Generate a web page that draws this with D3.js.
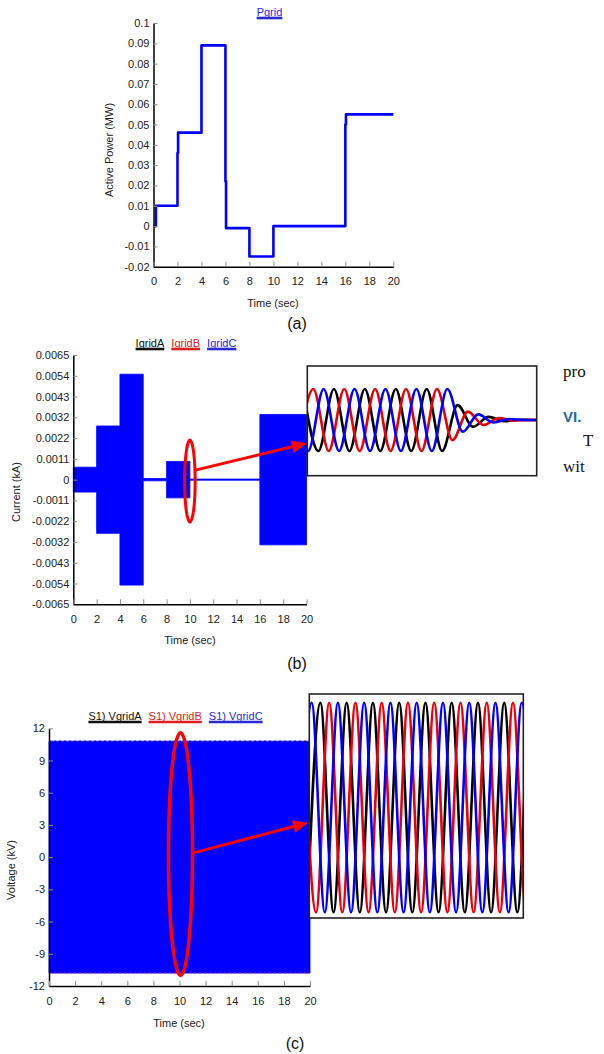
<!DOCTYPE html>
<html>
<head>
<meta charset="utf-8">
<script src="https://cdn.jsdelivr.net/npm/d3@7/dist/d3.min.js"></script>
<style>
  body { margin: 0; background: #fff; }
  svg text { font-family: "Liberation Sans", Arial, sans-serif; }
  svg text.serif { font-family: "Liberation Serif", "Times New Roman", serif; }
  .tick line { stroke: #8c8c8c; }
  .tick text { fill: #222; font-size: 11px; }
  .domain { stroke: #000; stroke-width: 1.5; }
</style>
</head>
<body>
<svg id="fig"></svg>
<script>
// ---- data ----
const timeTicks = [0, 2, 4, 6, 8, 10, 12, 14, 16, 18, 20];

// (a) active power, MW
const pgridTime = [0, 0.2, 0.2, 2, 2, 2.05, 2.05, 4, 4, 6, 6, 6.05, 6.05, 8, 8, 10, 10, 16, 16, 16.05, 16.05, 20];
const pgridValue = [0, 0, 0.010, 0.010, 0.036, 0.036, 0.046, 0.046, 0.089, 0.089, 0.022, 0.022, -0.001, -0.001, -0.015, -0.015, 0, 0, 0.050, 0.050, 0.055, 0.055];
const powerTicks = [0.1, 0.09, 0.08, 0.07, 0.06, 0.05, 0.04, 0.03, 0.02, 0.01, 0, -0.01, -0.02];
const powerTickLabels = ["0.1", "0.09", "0.08", "0.07", "0.06", "0.05", "0.04", "0.03", "0.02", "0.01", "0", "-0.01", "-0.02"];

// (b) grid current envelope, kA (peak per interval)
const currentTime = [0, 2, 4, 6, 8, 10, 16, 20];
const currentAmp = [0.00065, 0.0028, 0.0055, 0.00006, 0.00095, 0.00003, 0.0034, 0.0034];
const currentTicks = [0.0065, 0.005417, 0.004333, 0.00325, 0.002167, 0.001083, 0, -0.001083, -0.002167, -0.00325, -0.004333, -0.005417, -0.0065];
const currentTickLabels = ["0.0065", "0.0054", "0.0043", "0.0032", "0.0022", "0.0011", "0", "-0.0011", "-0.0022", "-0.0032", "-0.0043", "-0.0054", "-0.0065"];
const currentNames = ["IgridA", "IgridB", "IgridC"];

// (b) zoom inset: successive half-cycle extrema (per unit), start time in cycles
const insetBStart = [-0.139, -0.306, -0.472];
const insetBPeaksA = [1, -1, 1, -1, 1, -1, 1, -1, 1, -1, 0.48, -0.22, 0.1, -0.04, 0.01, 0, 0];
const insetBPeaksB = [-1, 1, -1, 1, -1, 1, -1, 1, -1, 1, -0.65, 0.27, -0.16, 0.06, -0.02, 0, 0];
const insetBPeaksC = [1, -1, 1, -1, 1, -1, 1, -1, 1, -1, 1, -0.38, 0.18, -0.08, 0.03, 0, 0];

// (c) grid voltage envelope, kV
const voltageTime = [0, 20];
const voltageAmp = [10.8, 10.8];
const voltageTicks = [12, 9, 6, 3, 0, -3, -6, -9, -12];
const voltageNames = ["S1) VgridA", "S1) VgridB", "S1) VgridC"];

// (c) zoom inset
const insetCStart = [-0.077, -0.243, -0.41];
const insetCPeaksA = [-1, 1, -1, 1, -1, 1, -1, 1, -1, 1, -1, 1, -1, 1, -1, 1, -1, 1, -1];
const insetCPeaksB = [1, -1, 1, -1, 1, -1, 1, -1, 1, -1, 1, -1, 1, -1, 1, -1, 1, -1, 1];
const insetCPeaksC = [-1, 1, -1, 1, -1, 1, -1, 1, -1, 1, -1, 1, -1, 1, -1, 1, -1, 1, -1];

const phaseColors = ["#000000", "#e8000b", "#0000ff"];
const BLUE = "#0000ff";
const RED = "#ff0000";

// ---- drawing ----
const W = 604, H = 1054;
const svg = d3.select("#fig").attr("width", W).attr("height", H);
svg.append("rect").attr("width", W).attr("height", H).attr("fill", "#fff");

const defs = svg.append("defs");

function panel(xr, yd, yr, yTicks, yLabels) {
  const g = svg.append("g");
  const x = d3.scaleLinear().domain([0, 20]).range(xr);
  const y = d3.scaleLinear().domain(yd).range(yr);
  const yAxis = d3.axisLeft(y).tickValues(yTicks)
    .tickFormat((d, i) => yLabels[i]).tickSizeInner(-4).tickSizeOuter(0).tickPadding(4);
  const xAxis = d3.axisBottom(x).tickValues(timeTicks).tickFormat(d3.format("d"))
    .tickSizeInner(-5).tickSizeOuter(0).tickPadding(11);
  const plot = g.append("g");
  g.append("g").attr("transform", `translate(${xr[0]},0)`).call(yAxis);
  g.append("g").attr("transform", `translate(0,${yr[0]})`).call(xAxis);
  return { g, plot, x, y };
}

function legend(cx, baseY, names, colors) {
  const lg = svg.append("g");
  let pos = 0;
  names.forEach((n, i) => {
    const t = lg.append("text").attr("x", pos).attr("y", baseY)
      .attr("fill", colors[i]).style("font-size", "11px").text(n);
    const w = t.node().getComputedTextLength();
    lg.append("line").attr("x1", pos).attr("x2", pos + w)
      .attr("y1", baseY + 2.5).attr("y2", baseY + 2.5)
      .attr("stroke", colors[i]).attr("stroke-width", 2.6);
    pos += w + 7;
  });
  lg.attr("transform", `translate(${cx - (pos - 7) / 2},0)`);
}

function axisTitles(xc, xb, ylx, yly, ylabel) {
  svg.append("text").attr("x", xc).attr("y", xb).attr("text-anchor", "middle")
    .style("font-size", "11px").attr("fill", "#222").text("Time (sec)");
  svg.append("text").attr("transform", `translate(${ylx},${yly}) rotate(-90)`)
    .attr("text-anchor", "middle").style("font-size", "11px").attr("fill", "#222").text(ylabel);
}

function caption(cx, by, s) {
  svg.append("text").attr("x", cx).attr("y", by).attr("text-anchor", "middle")
    .style("font-size", "16px").attr("fill", "#111").text(s);
}

function envelope(p, times, amps, fillColor) {
  const rows = times.map((t, i) => ({ t, a: amps[i] }));
  const area = d3.area().x(d => p.x(d.t)).y0(d => p.y(-d.a)).y1(d => p.y(d.a))
    .curve(d3.curveStepAfter);
  p.plot.append("path").datum(rows).attr("d", area)
    .attr("fill", fillColor).attr("stroke", fillColor).attr("stroke-width", 0.8);
  return rows;
}

function arrow(x1, y1, x2, y2) {
  const ang = Math.atan2(y2 - y1, x2 - x1);
  const L = 15, hw = 6.5;
  const bx = x2 - L * Math.cos(ang), by = y2 - L * Math.sin(ang);
  svg.append("line").attr("x1", x1).attr("y1", y1).attr("x2", bx).attr("y2", by)
    .attr("stroke", RED).attr("stroke-width", 3);
  const pts = [[x2, y2],
    [bx + hw * Math.sin(ang), by - hw * Math.cos(ang)],
    [bx - hw * Math.sin(ang), by + hw * Math.cos(ang)]];
  svg.append("polygon").attr("points", pts.map(p => p.join(",")).join(" ")).attr("fill", RED);
}

function inset(id, x0, y0, x1, y1, cycles, wy0, wy1, starts, peakSets, lw) {
  defs.append("clipPath").attr("id", id).append("rect")
    .attr("x", x0).attr("y", y0).attr("width", x1 - x0).attr("height", y1 - y0);
  svg.append("rect").attr("x", x0).attr("y", y0).attr("width", x1 - x0).attr("height", y1 - y0)
    .attr("fill", "#fff");
  const wx = d3.scaleLinear().domain([0, cycles]).range([x0, x1]);
  const wy = d3.scaleLinear().domain([-1, 1]).range([wy0, wy1]);
  const line = d3.line().x(d => wx(d.c)).y(d => wy(d.v)).curve(d3.curveMonotoneX);
  const wg = svg.append("g").attr("clip-path", `url(#${id})`);
  peakSets.forEach((pk, k) => {
    const rows = pk.map((v, i) => ({ c: starts[k] + i * 0.5, v }));
    wg.append("path").datum(rows).attr("d", line).attr("fill", "none")
      .attr("stroke", phaseColors[k]).attr("stroke-width", lw);
  });
  svg.append("rect").attr("x", x0).attr("y", y0).attr("width", x1 - x0).attr("height", y1 - y0)
    .attr("fill", "none").attr("stroke", "#222").attr("stroke-width", 1.6);
}

// (a) Pgrid
const pa = panel([153.5, 393.3], [-0.02, 0.1], [266.7, 23], powerTicks, powerTickLabels);
pa.plot.append("path")
  .datum(pgridTime.map((t, i) => ({ t, v: pgridValue[i] })))
  .attr("d", d3.line().x(d => pa.x(d.t)).y(d => pa.y(d.v)))
  .attr("fill", "none").attr("stroke", BLUE).attr("stroke-width", 2.6)
  .attr("stroke-linejoin", "round");
legend(269.5, 15.5, ["Pgrid"], ["#2b2bd6"]);
axisTitles(273, 306.5, 113, 150, "Active Power (MW)");
caption(297, 328.5, "(a)");

// (b) Igrid
const pb = panel([73.3, 306.5], [-0.0065, 0.0065], [604.3, 355], currentTicks, currentTickLabels);
envelope(pb, currentTime, currentAmp, BLUE);
legend(186, 346.5, currentNames, ["#111", "#e02020", "#2b2bd6"]);
axisTitles(190, 644, 20, 492, "Current (kA)");
caption(297, 669, "(b)");

inset("clipB", 307.3, 366, 536.7, 475.7, 7.42, 451, 389,
  insetBStart, [insetBPeaksA, insetBPeaksB, insetBPeaksC], 2.6);

const bcx = pb.x(10), bcy = pb.y(0);
svg.append("ellipse").attr("cx", bcx).attr("cy", bcy + 1.5)
  .attr("rx", pb.x(10.45) - bcx).attr("ry", pb.y(0) - pb.y(0.00214))
  .attr("fill", "none").attr("stroke", RED).attr("stroke-width", 3);
arrow(bcx + 5.5, bcy - 9.5, 306.7, 443.3);

// (c) Vgrid
const pc = panel([49, 310], [-12, 12], [986, 728.3], voltageTicks, voltageTicks.map(String));
envelope(pc, voltageTime, voltageAmp, BLUE);
pc.plot.append("line").attr("x1", pc.x(0)).attr("x2", pc.x(20))
  .attr("y1", pc.y(voltageAmp[0])).attr("y2", pc.y(voltageAmp[0]))
  .attr("stroke", "#10105a").attr("stroke-width", 1).attr("stroke-dasharray", "2,3");
pc.plot.append("line").attr("x1", pc.x(0)).attr("x2", pc.x(20))
  .attr("y1", pc.y(-voltageAmp[0])).attr("y2", pc.y(-voltageAmp[0]))
  .attr("stroke", "#e0406a").attr("stroke-width", 1).attr("stroke-dasharray", "2,3");
legend(175.5, 719.5, voltageNames, ["#111", "#e02020", "#2b2bd6"]);
axisTitles(179, 1027, 15, 870, "Voltage (kV)");
caption(295, 1048.5, "(c)");

inset("clipC", 309.3, 694, 523.3, 918, 8.15, 912.3, 702.7,
  insetCStart, [insetCPeaksA, insetCPeaksB, insetCPeaksC], 2.6);

const ccx = pc.x(10), ccy = pc.y(0);
svg.append("ellipse").attr("cx", ccx + 1).attr("cy", ccy - 3)
  .attr("rx", 12).attr("ry", pc.y(0) - pc.y(11.3))
  .attr("fill", "none").attr("stroke", RED).attr("stroke-width", 3.5);
arrow(ccx + 13, ccy - 4, 308, 822.7);

// fragment of the page's running text, right of panel (b)
const tg = svg.append("g");
tg.append("text").attr("class", "serif").attr("x", 563).attr("y", 377)
  .style("font-size", "17px").attr("fill", "#111").text("pro");
tg.append("text").attr("x", 563).attr("y", 422).style("font-size", "15px")
  .style("font-weight", "bold").attr("fill", "#1f6aa5").text("VI.");
tg.append("text").attr("class", "serif").attr("x", 583).attr("y", 445.5)
  .style("font-size", "17px").attr("fill", "#111").text("T");
tg.append("text").attr("class", "serif").attr("x", 563).attr("y", 471.5)
  .style("font-size", "17px").attr("fill", "#111").text("wit");
</script>
</body>
</html>
